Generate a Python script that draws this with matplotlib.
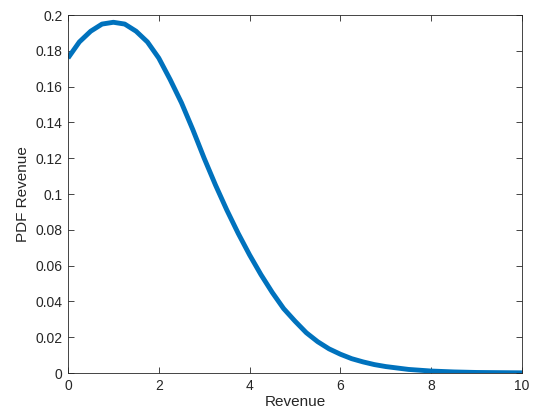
import numpy as np
import matplotlib
matplotlib.use("Agg")
import matplotlib.pyplot as plt

# valores
revenue = [0, 0.25, 0.5, 0.75, 1, 1.25, 1.5, 1.75, 2, 2.25, 2.5, 2.75, 3, 3.25, 3.5, 3.75,
           4, 4.25, 4.5, 4.75, 5, 5.25, 5.5, 5.75, 6, 6.25, 6.5, 6.75, 7, 7.5, 8, 8.5, 9, 9.5, 10]
pdf_revenue = [0.176, 0.185, 0.191, 0.195, 0.196, 0.195, 0.191, 0.185, 0.176, 0.164, 0.151,
               0.136, 0.120, 0.105, 0.091, 0.078, 0.066, 0.055, 0.045, 0.036, 0.029,
               0.0225, 0.0175, 0.0135, 0.0105, 0.008, 0.0062, 0.0047, 0.0036, 0.002, 0.0011,
               0.0006, 0.0003, 0.0002, 0.0001]

xticks = [0, 2, 4, 6, 8, 10]
yticks = [0, 0.02, 0.04, 0.06, 0.08, 0.1, 0.12, 0.14, 0.16, 0.18, 0.2]
ytick_labels = ["0", "0.02", "0.04", "0.06", "0.08", "0.1", "0.12", "0.14", "0.16", "0.18", "0.2"]

plt.rcParams['font.family'] = ['Liberation Sans', 'DejaVu Sans']

fig = plt.figure(figsize=(5.37, 4.2), dpi=100)
ax = fig.add_axes([0.1266, 0.1119, 0.8454, 0.8521])

ax.plot(revenue, pdf_revenue, color='#0072BD', linewidth=3.5,
        solid_capstyle='butt', solid_joinstyle='round')

ax.set_xlim(0, 10)
ax.set_ylim(0, 0.2)
ax.set_xticks(xticks)
ax.set_yticks(yticks)
ax.set_yticklabels(ytick_labels)
ax.tick_params(direction='in', length=4, width=0.6, colors='#262626', labelsize=10,
               top=True, right=True, pad=4)
for s in ax.spines.values():
    s.set_color('#262626')
    s.set_linewidth(0.6)

ax.set_xlabel("Revenue", fontsize=11, color='#262626', labelpad=2)
ax.set_ylabel("PDF Revenue", fontsize=11, color='#262626', labelpad=4)

fig.savefig("out.png", dpi=100)
